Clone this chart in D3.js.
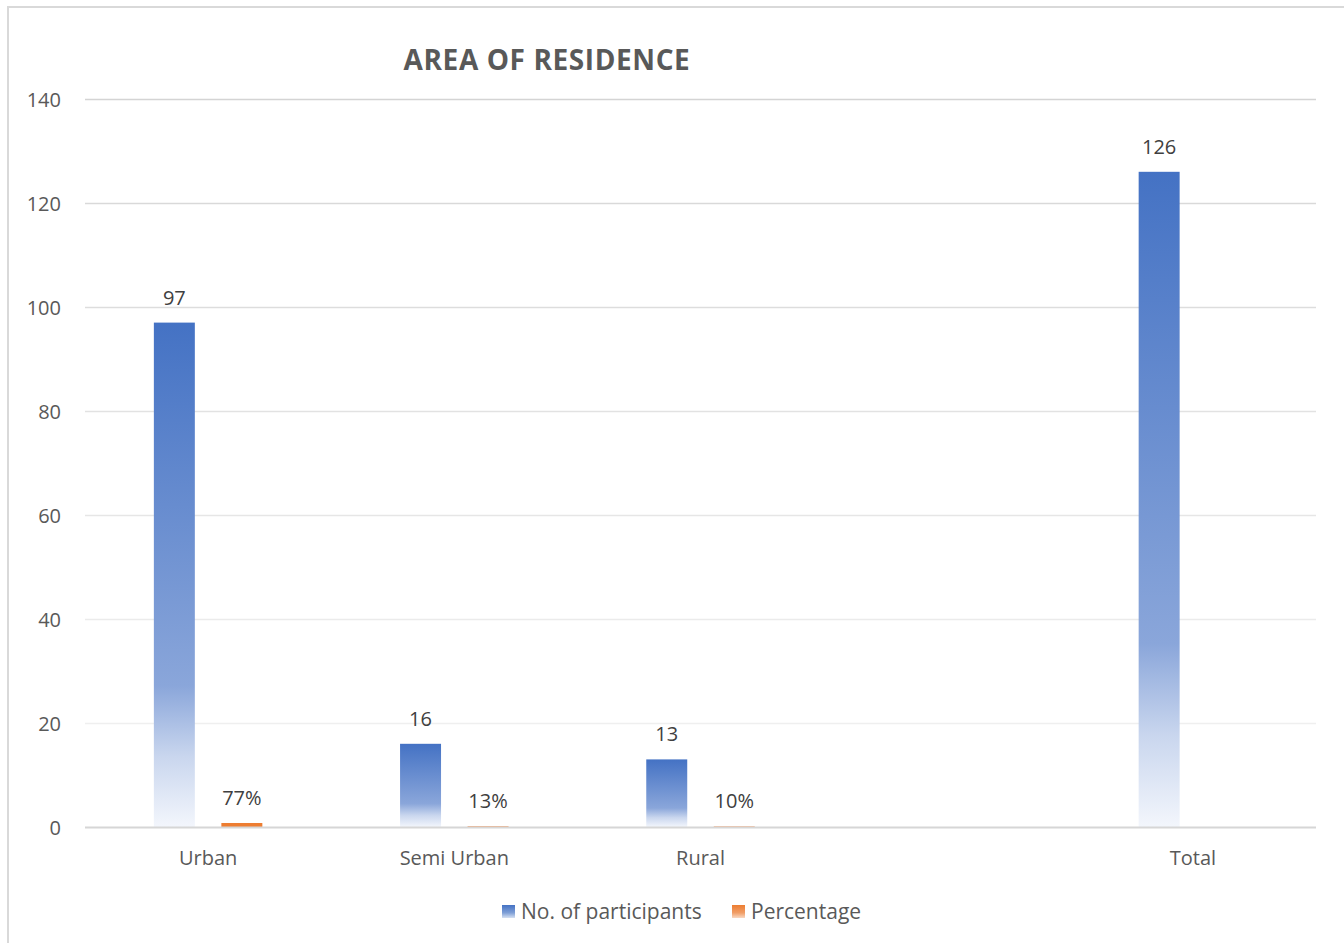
<!DOCTYPE html>
<html>
<head>
<meta charset="utf-8">
<script src="https://cdn.jsdelivr.net/npm/d3@7"></script>
<style>
  html, body { margin: 0; padding: 0; background: #fff; }
  svg { display: block; font-family: "Open Sans", sans-serif; }
</style>
</head>
<body>
<svg id="chart" width="1344" height="943"></svg>
<script>
const categories = ["Urban", "Semi Urban", "Rural", "", "Total"];
const participants = [97, 16, 13, null, 126];
const percentage = [0.77, 0.13, 0.10, null, null];
const percentageLabels = ["77%", "13%", "10%", null, null];
const seriesNames = ["No. of participants", "Percentage"];
const yTicks = [0, 20, 40, 60, 80, 100, 120, 140];
const title = "AREA OF RESIDENCE";

const svg = d3.select("#chart");
const plot = { left: 85, right: 1316, top: 99, bottom: 827 };

// border
svg.append("rect").attr("x", 8).attr("y", 7).attr("width", 1345).attr("height", 950)
  .attr("fill", "#fff").attr("stroke", "#d9d9d9").attr("stroke-width", 2);

const defs = svg.append("defs");
function grad(id, c0, c1, c2, c3) {
  const g = defs.append("linearGradient").attr("id", id)
    .attr("x1", 0).attr("y1", 0).attr("x2", 0).attr("y2", 1);
  g.append("stop").attr("offset", "0%").attr("stop-color", c0);
  g.append("stop").attr("offset", "72%").attr("stop-color", c1);
  g.append("stop").attr("offset", "86%").attr("stop-color", c2);
  g.append("stop").attr("offset", "100%").attr("stop-color", c3);
}
grad("gBlue", "#4472C4", "#8AA6DA", "#C9D6EE", "#F3F6FC");
const legGrad = defs.append("linearGradient").attr("id", "lgBlue").attr("x1",0).attr("y1",0).attr("x2",0).attr("y2",1);
legGrad.append("stop").attr("offset","0%").attr("stop-color","#4472C4");
legGrad.append("stop").attr("offset","60%").attr("stop-color","#7F9FD6");
legGrad.append("stop").attr("offset","100%").attr("stop-color","#D5E0F2");
const legGrad2 = defs.append("linearGradient").attr("id", "lgOrange").attr("x1",0).attr("y1",0).attr("x2",0).attr("y2",1);
legGrad2.append("stop").attr("offset","0%").attr("stop-color","#ED7D31");
legGrad2.append("stop").attr("offset","60%").attr("stop-color","#F19E67");
legGrad2.append("stop").attr("offset","100%").attr("stop-color","#F9D8C2");

const x0 = d3.scaleBand().domain(categories.map((c, i) => i)).range([plot.left, plot.right]).padding(0);
const x1 = d3.scaleBand().domain(seriesNames).range([0, x0.bandwidth()])
  .paddingInner(0.393).paddingOuter(1.02);
const y = d3.scaleLinear().domain([0, 140]).range([plot.bottom, plot.top]);

// gridlines
const gridColor = d3.scaleLinear().domain([20, 140]).range(["#efefef", "#d4d4d4"]);
svg.append("g").selectAll("line").data(yTicks.filter(t => t > 0)).join("line")
  .attr("x1", plot.left).attr("x2", plot.right)
  .attr("y1", d => y(d) + 0.5).attr("y2", d => y(d) + 0.5)
  .attr("stroke", d => gridColor(d)).attr("stroke-width", 1.5);

// y axis labels
const yAxis = d3.axisLeft(y).tickValues(yTicks).tickSize(0).tickPadding(0);
const ya = svg.append("g").attr("transform", `translate(61,0)`).call(yAxis);
ya.select(".domain").remove();
ya.selectAll("text").attr("font-size", 20).attr("fill", "#595959")
  .attr("font-family", "Open Sans, sans-serif").attr("dy", "0.35em");

// bars
const data = categories.map((c, i) => ({ i, c, p: participants[i], q: percentage[i], ql: percentageLabels[i] }));
const g = svg.append("g");
data.forEach(d => {
  if (d.p != null) {
    const bx = x0(d.i) + x1(seriesNames[0]);
    g.append("rect").attr("x", bx).attr("y", y(d.p)).attr("width", x1.bandwidth())
      .attr("height", y(0) - y(d.p)).attr("fill", "url(#gBlue)");
    g.append("text").attr("x", bx + x1.bandwidth() / 2).attr("y", y(d.p) - 18)
      .attr("text-anchor", "middle").attr("font-size", 20).attr("fill", "#404040").text(d.p);
  }
  if (d.q != null) {
    const bx = x0(d.i) + x1(seriesNames[1]);
    g.append("rect").attr("x", bx).attr("y", y(d.q)).attr("width", x1.bandwidth())
      .attr("height", y(0) - y(d.q)).attr("fill", "#ED7D31");
    g.append("text").attr("x", bx + x1.bandwidth() / 2).attr("y", y(d.q) - 18)
      .attr("text-anchor", "middle").attr("font-size", 20).attr("fill", "#404040").text(d.ql);
  }
});

// x axis line
svg.append("line").attr("x1", plot.left).attr("x2", plot.right)
  .attr("y1", y(0) + 0.5).attr("y2", y(0) + 0.5).attr("stroke", "#d6d6d6").attr("stroke-width", 2);

// category labels
const xAxis = d3.axisBottom(x0).tickFormat(i => categories[i]).tickSize(0).tickPadding(0);
const xa = svg.append("g").attr("transform", `translate(0,${plot.bottom + 24})`).call(xAxis);
xa.select(".domain").remove();
xa.selectAll("text").attr("font-size", 20).attr("fill", "#595959")
  .attr("font-family", "Open Sans, sans-serif");

// title
svg.append("text").attr("x", 547).attr("y", 70).attr("text-anchor", "middle")
  .attr("font-size", 28).attr("font-weight", "bold").attr("fill", "#595959")
  .attr("letter-spacing", 0.6).text(title);

// legend
const leg = svg.append("g");
leg.append("rect").attr("x", 502).attr("y", 905).attr("width", 13).attr("height", 13).attr("fill", "url(#lgBlue)");
leg.append("text").attr("x", 521).attr("y", 919).attr("font-size", 21).attr("fill", "#595959").text(seriesNames[0]);
leg.append("rect").attr("x", 732).attr("y", 905).attr("width", 13).attr("height", 13).attr("fill", "url(#lgOrange)");
leg.append("text").attr("x", 751).attr("y", 919).attr("font-size", 21).attr("fill", "#595959").text(seriesNames[1]);
</script>
</body>
</html>
